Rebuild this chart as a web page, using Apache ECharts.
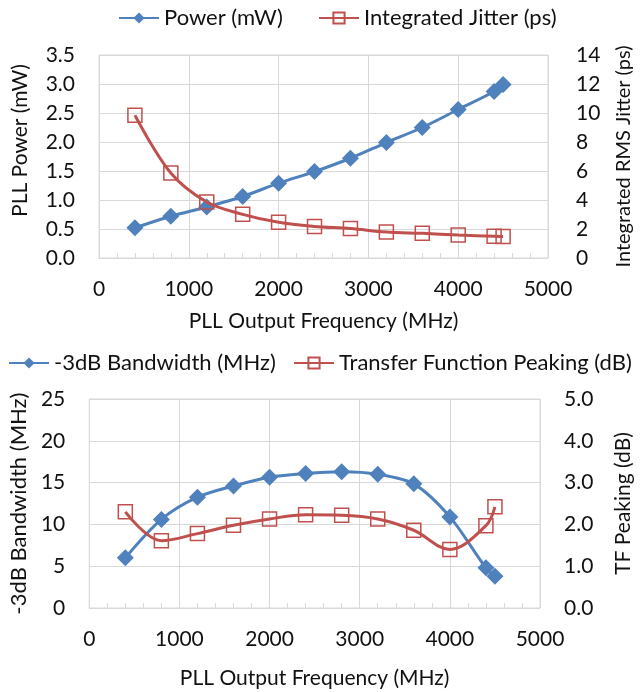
<!DOCTYPE html>
<html>
<head>
<meta charset="utf-8">
<script src="https://cdn.jsdelivr.net/npm/echarts@6/dist/echarts.min.js"></script>
<style>html,body{margin:0;padding:0;background:#fff}#c{width:642px;height:692px}</style>
</head>
<body>
<div id="c"></div>
<script>
const freq = [400, 800, 1200, 1600, 2000, 2400, 2800, 3200, 3600, 4000, 4400, 4500];
const power = [0.52, 0.72, 0.88, 1.06, 1.29, 1.49, 1.72, 1.99, 2.25, 2.56, 2.87, 2.99];
const jitter = [9.84, 5.86, 3.86, 3.01, 2.46, 2.18, 2.03, 1.79, 1.70, 1.59, 1.50, 1.49];
const bandwidth = [6.0, 10.6, 13.25, 14.6, 15.65, 16.1, 16.3, 16.0, 14.85, 10.9, 4.8, 3.8];
const peaking = [2.30, 1.61, 1.78, 1.98, 2.13, 2.23, 2.22, 2.13, 1.86, 1.40, 1.97, 2.42];
const xTicks = [0, 1000, 2000, 3000, 4000, 5000];
const xName = 'PLL Output Frequency (MHz)';

const FONT = 'Lato';
const TICK_FS = 21;
const XNAME_FS = 21;
const LEG_FS = 22;
const TXT = '#111';
const BLUE = '#4F81BD';
const RED = '#C0504D';
const GRIDC = '#D9D9D9';

const pairs = (xs, ys) => xs.map((x, i) => [x, ys[i]]);

function xAxis(gridIndex, margin, nameGap) {
  return {
    type: 'value', gridIndex, min: xTicks[0], max: xTicks[xTicks.length - 1], interval: 1000,
    name: xName, nameLocation: 'middle', nameGap,
    nameTextStyle: { fontFamily: FONT, fontSize: XNAME_FS, color: TXT },
    axisLabel: { fontFamily: FONT, fontSize: TICK_FS, color: TXT, margin, formatter: v => String(v) },
    axisLine: { show: true, lineStyle: { color: GRIDC } },
    axisTick: { show: true, inside: true, length: 5, lineStyle: { color: GRIDC } },
    minorTick: { show: true, splitNumber: 5, length: 5, lineStyle: { color: GRIDC } },
    splitLine: { show: true, lineStyle: { color: GRIDC } }
  };
}
function yAxis(gridIndex, pos, min, max, interval, name, nameGap, nameFs, dec, splitLine, margin, padding) {
  return {
    type: 'value', gridIndex, position: pos, min, max, interval,
    name, nameLocation: 'middle', nameGap,
    nameTextStyle: { fontFamily: FONT, fontSize: nameFs, color: TXT, padding: padding || 0 },
    axisLabel: { fontFamily: FONT, fontSize: TICK_FS, color: TXT, margin,
      formatter: v => v.toFixed(dec) },
    axisLine: { show: false }, axisTick: { show: false },
    splitLine: { show: splitLine, lineStyle: { color: GRIDC } }
  };
}
function diamond(name, xi, yi, data) {
  return {
    name, type: 'line', xAxisIndex: xi, yAxisIndex: yi, data, smooth: 0.3,
    symbol: 'diamond', symbolSize: 17,
    itemStyle: { color: BLUE },
    lineStyle: { color: BLUE, width: 3 }, z: 2
  };
}
function square(name, xi, yi, data) {
  return {
    name, type: 'line', xAxisIndex: xi, yAxisIndex: yi, data, smooth: 0.35,
    symbol: 'rect', symbolSize: 14,
    itemStyle: { color: 'rgba(255,255,255,0)', borderColor: RED, borderWidth: 1.5 },
    lineStyle: { color: RED, width: 3 }, z: 3
  };
}
const legendBase = { itemWidth: 40, itemHeight: 14, itemGap: 0, padding: 0,
  textStyle: { fontFamily: FONT, fontSize: LEG_FS, color: TXT }, selectedMode: false };

const option = {
  backgroundColor: '#fff',
  animation: false,
  legend: [
    Object.assign({}, legendBase, { left: 118, top: 7, data: ['Power (mW)'] }),
    Object.assign({}, legendBase, { left: 318, top: 7, data: ['Integrated Jitter (ps)'] }),
    Object.assign({}, legendBase, { left: 8, top: 352, data: ['-3dB Bandwidth (MHz)'] }),
    Object.assign({}, legendBase, { left: 293, top: 352, data: ['Transfer Function Peaking (dB)'] })
  ],
  grid: [
    { left: 99, right: 93, top: 55, height: 203, show: true, borderColor: GRIDC, borderWidth: 1 },
    { left: 86, right: 98, top: 399, height: 209, show: true, borderColor: GRIDC, borderWidth: 1 }
  ],
  xAxis: [xAxis(0, 21, 53), xAxis(1, 21, 60)],
  yAxis: [
    yAxis(0, 'left', 0, 3.5, 0.5, 'PLL Power (mW)', 68, 21, 1, true, 24, [0, 0, 0, 32]),
    yAxis(0, 'right', 0, 14, 2, 'Integrated RMS Jitter (ps)', 66, 20, 0, false, 28),
    yAxis(1, 'left', 0, 25, 5, '-3dB Bandwidth (MHz)', 59, 22, 0, true, 24),
    yAxis(1, 'right', 0, 5, 1, 'TF Peaking (dB)', 73, 21, 1, false, 24)
  ],
  series: [
    diamond('Power (mW)', 0, 0, pairs(freq, power)),
    square('Integrated Jitter (ps)', 0, 1, pairs(freq, jitter)),
    diamond('-3dB Bandwidth (MHz)', 1, 2, pairs(freq, bandwidth)),
    square('Transfer Function Peaking (dB)', 1, 3, pairs(freq, peaking))
  ]
};
echarts.init(document.getElementById('c'), null, { renderer: 'canvas' }).setOption(option);
</script>
</body>
</html>
